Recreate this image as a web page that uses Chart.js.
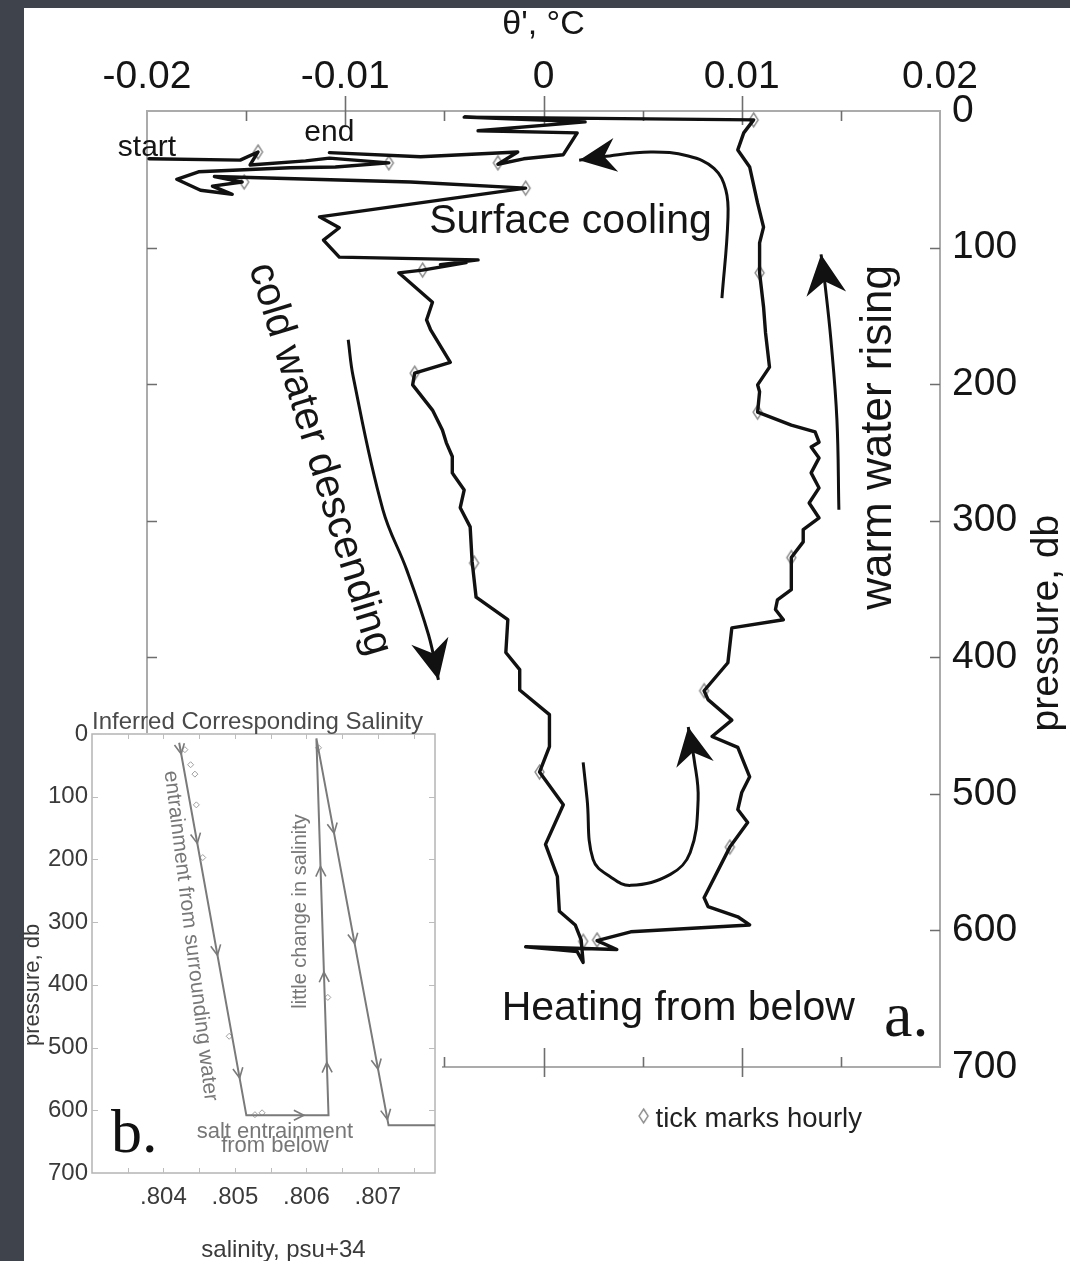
<!DOCTYPE html>
<html>
<head>
<meta charset="utf-8">
<title>Potential temperature anomaly and inferred salinity</title>
<script src="https://cdn.jsdelivr.net/npm/chart.js@4.4.0/dist/chart.umd.min.js"></script>
<style>
  html, body { margin: 0; padding: 0; }
  body { width: 1070px; height: 1261px; background: #3f434b; position: relative; overflow: hidden; }
  #sheet { position: absolute; left: 24px; top: 8px; right: 0; bottom: 0; background: #ffffff; }
  #main { position: absolute; left: 0; top: 0; }
  #inset { position: absolute; left: 0; top: 700px; }
</style>
</head>
<body>
<div id="sheet"></div>
<canvas id="main" width="1070" height="1261"></canvas>
<canvas id="inset" width="450" height="561"></canvas>
<script>
// ---- panel a: float trajectory, theta' (°C) against pressure (db) ----
const thetaTrace = [
  -0.0199, -0.0153, -0.0144, -0.0148, -0.0120, -0.0108, -0.0078, -0.0105, -0.0128, -0.0174,
  -0.0185, -0.0173, -0.0157, -0.0167, -0.0152, -0.0166, -0.0067, -0.0009, -0.0113, -0.0103,
  -0.0111, -0.0103, -0.0033, -0.0052, -0.0039, -0.0061, -0.0073, -0.0056, -0.0059, -0.0057,
  -0.0047, -0.0065, -0.0066, -0.0056, -0.0051, -0.0049, -0.0046, -0.0046, -0.0040, -0.0042,
  -0.0037, -0.0036, -0.0034, -0.0018, -0.0019, -0.0012, -0.0012, 0.0003, 0.0003, -0.0002,
  0.0010, 0.0001, 0.0007, 0.0008, 0.0016, 0.0019, 0.0020, 0.0017, -0.0009, 0.0037,
  0.0027, 0.0044, 0.0104, 0.0098, 0.0083, 0.0081, 0.0094, 0.0103, 0.0098, 0.0100,
  0.0104, 0.0098, 0.0085, 0.0095, 0.0083, 0.0081, 0.0093, 0.0095, 0.0121, 0.0117,
  0.0118, 0.0125, 0.0125, 0.0131, 0.0131, 0.0139, 0.0134, 0.0139, 0.0135, 0.0139,
  0.0135, 0.0139, 0.0137, 0.0125, 0.0108, 0.0109, 0.0108, 0.0114, 0.0112, 0.0111,
  0.0109, 0.0109, 0.0111, 0.0108, 0.0104, 0.0098, 0.0101, 0.0106, -0.0040, 0.0021,
  -0.0033, 0.0017, 0.0010, -0.0010, -0.0023, -0.0013, -0.0062, -0.0108
];
const pressureTrace = [
  35, 36, 30, 39.5, 36.5, 34.5, 38, 41, 41.5, 44.5,
  50, 58, 61, 55, 52, 48, 52, 56.5, 77.5, 85.5,
  94.5, 107, 109, 112.5, 111, 116.5, 118.5, 140, 153, 160,
  184, 192, 200.5, 219, 233.5, 243, 253, 265, 277.5, 290.5,
  304.5, 330, 356, 372.5, 396.5, 409, 424, 442, 465.5, 484,
  508, 537, 560.5, 586, 596, 607, 623.5, 615.5, 612, 614,
  607.5, 601, 596, 590, 582.5, 576, 539, 521, 511.5, 499,
  487.5, 466, 458, 446, 431, 424.5, 404, 378.5, 372.5, 365,
  358, 350.5, 327, 315.5, 306.5, 298, 287, 276, 265, 254,
  246, 242.5, 235, 230, 220.5, 205.5, 200.5, 187.5, 162.5, 143.5,
  118.5, 96.5, 85, 67.5, 41, 28.5, 16, 6.5, 4.5, 8,
  14.5, 16, 32, 35, 39, 30, 33.5, 30.5
];
// hourly marks along the trajectory
const hourTheta = [-0.0144, -0.0078, -0.0151, -0.0009, -0.0023, -0.0061, -0.0065, -0.0035, -0.0002,
                   0.0020, 0.0027, 0.0081, 0.0094, 0.0125, 0.0108, 0.0109, 0.0106];
const hourPressure = [30, 38, 52, 56.5, 38, 116.5, 192, 331, 484,
                      608, 607, 424.5, 539, 327, 220.5, 118.5, 6.5];

// circulation arrows (theta', pressure), last point is the arrow tip
const coolingArrowTheta = [0.0090, 0.0093, 0.0092, 0.0086, 0.0073, 0.0054, 0.0030, 0.0018];
const coolingArrowPres  = [137, 80, 58, 42, 33, 30, 33.5, 36];
const risingArrowTheta  = [0.0149, 0.0148, 0.0145, 0.0142, 0.0140];
const risingArrowPres   = [292, 226, 168, 127, 105];
const sinkingArrowTheta = [-0.00985, -0.0096, -0.0081, -0.0069, -0.0058, -0.0053];
const sinkingArrowPres  = [167.5, 194.5, 292, 336, 383.5, 416.5];
const turnArrowTheta    = [0.0020, 0.0022, 0.0025, 0.0034, 0.0044, 0.0064, 0.0074, 0.0078, 0.0076, 0.0073];
const turnArrowPres     = [477, 504, 548, 561, 567, 559, 543, 504, 475, 451];

const thetaTicks = [-0.02, -0.01, 0, 0.01, 0.02];
const thetaTickLabels = ['-0.02', '-0.01', '0', '0.01', '0.02'];
const thetaMinorTicks = [-0.015, -0.005, 0.005, 0.015];
const pressureTicks = [0, 100, 200, 300, 400, 500, 600, 700];
const pressureTickLabels = ['0', '100', '200', '300', '400', '500', '600', '700'];

// ---- panel b: inferred salinity (psu + 34) against pressure (db) ----
const salinityPath = [0.80422, 0.80516, 0.80631, 0.80614, 0.80715, 0.80782];
const salinityPathPres = [14, 608, 608, 7, 624, 624];
const salinityHourly = [0.80430, 0.80438, 0.80444, 0.80446, 0.80455, 0.80492, 0.80528, 0.80538, 0.80617, 0.80630];
const salinityHourlyPres = [25, 49, 64, 113, 197, 482, 607, 604, 22, 420];
const salinityTicks = [0.804, 0.805, 0.806, 0.807];
const salinityTickLabels = ['.804', '.805', '.806', '.807'];
const salinityMinorTicks = [0.8035, 0.8040, 0.8045, 0.8050, 0.8055, 0.8060, 0.8065, 0.8070, 0.8075];
// direction chevrons: which leg of the salinity path, and how far along it
const chevronLeg = [0, 0, 0, 0, 1, 2, 2, 2, 3, 3, 3, 3];
const chevronAlong = [0.03, 0.27, 0.57, 0.9, 0.7, 0.14, 0.38, 0.66, 0.245, 0.53, 0.855, 0.985];

const SANS = "'Liberation Sans', Arial, Helvetica, sans-serif";
const SERIF = "'Liberation Serif', 'Times New Roman', serif";
Chart.defaults.font.family = SANS;

const zip = (xs, ys) => xs.map((v, i) => ({ x: v, y: ys[i] }));

// tall hollow diamond used for the hourly marks
function diamondGlyph(w, h, stroke, lw) {
  const c = document.createElement('canvas');
  c.width = w + 4; c.height = h + 4;
  const g = c.getContext('2d');
  g.translate(c.width / 2, c.height / 2);
  g.beginPath();
  g.moveTo(0, -h / 2); g.lineTo(w / 2, 0); g.lineTo(0, h / 2); g.lineTo(-w / 2, 0); g.closePath();
  g.fillStyle = '#ffffff'; g.fill();
  g.strokeStyle = stroke; g.lineWidth = lw; g.stroke();
  return c;
}
const hourGlyph = diamondGlyph(9, 14, '#8a8a8a', 1.4);

function arrowHead(ctx, tip, from, len, half) {
  const ang = Math.atan2(tip.y - from.y, tip.x - from.x);
  ctx.save();
  ctx.translate(tip.x, tip.y);
  ctx.rotate(ang);
  ctx.beginPath();
  ctx.moveTo(0, 0);
  ctx.lineTo(-len, -half);
  ctx.lineTo(-len * 0.68, 0);
  ctx.lineTo(-len, half);
  ctx.closePath();
  ctx.fill();
  ctx.restore();
}

function drawText(ctx, text, x, y, font, color, rot, align) {
  ctx.save();
  ctx.translate(x, y);
  if (rot) ctx.rotate(rot);
  ctx.font = font;
  ctx.fillStyle = color;
  ctx.textAlign = align || 'center';
  ctx.textBaseline = 'middle';
  ctx.fillText(text, 0, 0);
  ctx.restore();
}

// frame with inward ticks for panel a
const frameA = {
  id: 'frameA',
  beforeDatasetsDraw(chart) {
    const { ctx, chartArea: a, scales: { x, y } } = chart;
    ctx.save();
    ctx.strokeStyle = '#ababab';
    ctx.lineWidth = 2;
    ctx.strokeRect(a.left, a.top, a.right - a.left, a.bottom - a.top);
    ctx.strokeStyle = '#6e6e6e';
    ctx.lineWidth = 1.6;
    ctx.beginPath();
    thetaTicks.slice(1, -1).forEach(v => {
      const px = Math.round(x.getPixelForValue(v)) + 0.5;
      ctx.moveTo(px, a.top - 15); ctx.lineTo(px, a.top + 14);
      ctx.moveTo(px, a.bottom - 19); ctx.lineTo(px, a.bottom + 10);
    });
    thetaMinorTicks.forEach(v => {
      const px = Math.round(x.getPixelForValue(v)) + 0.5;
      ctx.moveTo(px, a.top); ctx.lineTo(px, a.top + 10);
      ctx.moveTo(px, a.bottom - 10); ctx.lineTo(px, a.bottom);
    });
    pressureTicks.slice(1, -1).forEach(v => {
      const py = Math.round(y.getPixelForValue(v)) + 0.5;
      ctx.moveTo(a.left, py); ctx.lineTo(a.left + 10, py);
      ctx.moveTo(a.right - 10, py); ctx.lineTo(a.right, py);
    });
    ctx.stroke();
    ctx.restore();
  }
};

// arrowheads, axis titles and labels for panel a
const notesA = {
  id: 'notesA',
  afterDatasetsDraw(chart) {
    const { ctx, chartArea: a, scales: { x, y } } = chart;
    const P = (t, p) => ({ x: x.getPixelForValue(t), y: y.getPixelForValue(p) });
    ctx.save();
    ctx.fillStyle = '#111111';
    [[coolingArrowTheta, coolingArrowPres, 37, 17],
     [risingArrowTheta, risingArrowPres, 40, 20],
     [sinkingArrowTheta, sinkingArrowPres, 40, 19],
     [turnArrowTheta, turnArrowPres, 38, 19]].forEach(([ts, ps, len, half]) => {
      const n = ts.length;
      arrowHead(ctx, P(ts[n - 1], ps[n - 1]), P(ts[n - 2], ps[n - 2]), len, half);
    });
    ctx.restore();

    const ink = '#151515';
    drawText(ctx, "\u03B8', \u00B0C", x.getPixelForValue(0), 25, '34px ' + SANS, ink);
    drawText(ctx, 'pressure, db', a.right + 107, y.getPixelForValue(375), '39px ' + SANS, ink, -Math.PI / 2);

    let q = P(0.00136, 81);
    drawText(ctx, 'Surface cooling', q.x, q.y, '41px ' + SANS, ink);
    q = P(0.0068, 657);
    drawText(ctx, 'Heating from below', q.x, q.y, '41px ' + SANS, ink);
    q = P(-0.0200, 27);
    drawText(ctx, 'start', q.x, q.y, '30px ' + SANS, ink);
    q = P(-0.0108, 16);
    drawText(ctx, 'end', q.x, q.y, '30px ' + SANS, ink);
    q = P(-0.0113, 255);
    drawText(ctx, 'cold water descending', q.x, q.y, '41px ' + SANS, ink, 73 * Math.PI / 180);
    q = P(0.0169, 239);
    drawText(ctx, 'warm water rising', q.x, q.y, '44px ' + SANS, ink, -Math.PI / 2);
    q = P(0.0183, 665);
    drawText(ctx, 'a.', q.x, q.y, '64px ' + SERIF, ink);

    // key for the hourly marks
    const kx = x.getPixelForValue(0.00505), ky = a.bottom + 50;
    ctx.drawImage(hourGlyph, kx - hourGlyph.width / 2, ky - hourGlyph.height / 2 - 1);
    drawText(ctx, 'tick marks hourly', kx + 12, ky + 2, '27.5px ' + SANS, '#222', 0, 'left');
  }
};

new Chart(document.getElementById('main'), {
  type: 'scatter',
  data: {
    datasets: [
      { data: zip(thetaTrace, pressureTrace), showLine: true, borderColor: '#111111', borderWidth: 3.4,
        pointRadius: 0, tension: 0, borderJoinStyle: 'round', borderCapStyle: 'round' },
      { data: zip(coolingArrowTheta, coolingArrowPres), showLine: true, borderColor: '#111111', borderWidth: 3,
        pointRadius: 0, tension: 0.4 },
      { data: zip(risingArrowTheta, risingArrowPres), showLine: true, borderColor: '#111111', borderWidth: 3,
        pointRadius: 0, tension: 0.4 },
      { data: zip(sinkingArrowTheta, sinkingArrowPres), showLine: true, borderColor: '#111111', borderWidth: 3,
        pointRadius: 0, tension: 0.4 },
      { data: zip(turnArrowTheta, turnArrowPres), showLine: true, borderColor: '#111111', borderWidth: 3,
        pointRadius: 0, tension: 0.4 },
      { data: zip(hourTheta, hourPressure), showLine: false, pointStyle: hourGlyph, pointRadius: 7 }
    ]
  },
  options: {
    responsive: false,
    animation: false,
    events: [],
    layout: { padding: { left: 147, right: 0, top: 0, bottom: 194 } },
    plugins: { legend: { display: false }, tooltip: { enabled: false } },
    scales: {
      x: {
        type: 'linear', position: 'top', min: -0.02, max: 0.02,
        grid: { display: false, drawTicks: false }, border: { display: false },
        afterBuildTicks: s => { s.ticks = thetaTicks.map(v => ({ value: v })); },
        afterFit: s => { s.height = 111; },
        ticks: {
          callback: (v, i) => thetaTickLabels[i],
          font: { size: 39 }, color: '#151515', padding: 10, maxRotation: 0, autoSkip: false
        }
      },
      y: {
        type: 'linear', position: 'right', min: 0, max: 700, reverse: true,
        grid: { display: false, drawTicks: false }, border: { display: false },
        afterBuildTicks: s => { s.ticks = pressureTicks.map(v => ({ value: v })); },
        afterFit: s => { s.width = 130; },
        ticks: {
          callback: (v, i) => pressureTickLabels[i],
          font: { size: 39 }, color: '#151515', padding: 12, autoSkip: false
        }
      }
    }
  },
  plugins: [frameA, notesA]
});

// ---- panel b ----
const panelB = {
  id: 'panelB',
  beforeDraw(chart) {
    const { ctx, chartArea: a } = chart;
    ctx.save();
    ctx.fillStyle = '#ffffff';
    ctx.fillRect(24, a.top - 1, a.right + 7 - 24, chart.height - a.top + 1);
    ctx.restore();
  },
  beforeDatasetsDraw(chart) {
    const { ctx, chartArea: a, scales: { x, y } } = chart;
    ctx.save();
    ctx.strokeStyle = '#b4b4b4';
    ctx.lineWidth = 1.5;
    ctx.strokeRect(a.left, a.top, a.right - a.left, a.bottom - a.top);
    ctx.strokeStyle = '#bdbdbd';
    ctx.lineWidth = 1;
    ctx.beginPath();
    salinityMinorTicks.forEach(v => {
      const px = Math.round(x.getPixelForValue(v)) + 0.5;
      ctx.moveTo(px, a.top); ctx.lineTo(px, a.top + 5);
      ctx.moveTo(px, a.bottom); ctx.lineTo(px, a.bottom - 5);
    });
    pressureTicks.slice(1, -1).forEach(v => {
      const py = Math.round(y.getPixelForValue(v)) + 0.5;
      ctx.moveTo(a.left, py); ctx.lineTo(a.left + 6, py);
      ctx.moveTo(a.right, py); ctx.lineTo(a.right - 6, py);
    });
    ctx.stroke();
    ctx.restore();
  },
  afterDatasetsDraw(chart) {
    const { ctx, chartArea: a, scales: { x, y } } = chart;
    const P = (s, p) => ({ x: x.getPixelForValue(s), y: y.getPixelForValue(p) });
    const pts = salinityPath.map((s, i) => P(s, salinityPathPres[i]));
    ctx.save();
    ctx.strokeStyle = '#7a7a7a';
    ctx.lineWidth = 1.6;
    chevronLeg.forEach((leg, k) => {
      const p0 = pts[leg], p1 = pts[leg + 1], f = chevronAlong[k];
      const cx = p0.x + (p1.x - p0.x) * f, cy = p0.y + (p1.y - p0.y) * f;
      const ang = Math.atan2(p1.y - p0.y, p1.x - p0.x);
      ctx.save();
      ctx.translate(cx, cy);
      ctx.rotate(ang);
      ctx.beginPath();
      ctx.moveTo(-10, -5); ctx.lineTo(0, 0); ctx.lineTo(-10, 5);
      ctx.stroke();
      ctx.restore();
    });
    ctx.restore();

    const grey = '#777777', dark = '#3a3a3a';
    drawText(ctx, 'Inferred Corresponding Salinity', (a.left + a.right) / 2 - 6, a.top - 12, '24px ' + SANS, '#4a4a4a');
    drawText(ctx, 'pressure, db', 33, y.getPixelForValue(400), '22px ' + SANS, dark, -Math.PI / 2);
    drawText(ctx, 'salinity, psu+34', x.getPixelForValue(0.80568), a.bottom + 77, '24px ' + SANS, dark);
    let q = P(0.80438, 322);
    drawText(ctx, 'entrainment from surrounding water', q.x, q.y, '21px ' + SANS, grey, 83 * Math.PI / 180);
    q = P(0.80592, 283);
    drawText(ctx, 'little change in salinity', q.x, q.y, '20px ' + SANS, grey, -Math.PI / 2);
    q = P(0.80556, 635);
    drawText(ctx, 'salt entrainment', q.x, q.y, '22px ' + SANS, grey);
    q = P(0.80556, 657);
    drawText(ctx, 'from below', q.x, q.y, '22px ' + SANS, grey);
    q = P(0.80359, 640);
    drawText(ctx, 'b.', q.x, q.y, '62px ' + SERIF, '#111111');
  }
};

new Chart(document.getElementById('inset'), {
  type: 'scatter',
  data: {
    datasets: [
      { data: zip(salinityPath, salinityPathPres), showLine: true, borderColor: '#7a7a7a', borderWidth: 2,
        pointRadius: 0, tension: 0 },
      { data: zip(salinityHourly, salinityHourlyPres), showLine: false, pointStyle: 'rectRot', pointRadius: 3,
        borderColor: '#a0a0a0', borderWidth: 1, backgroundColor: '#ffffff' }
    ]
  },
  options: {
    responsive: false,
    animation: false,
    events: [],
    layout: { padding: { left: 0, right: 15, top: 34, bottom: 0 } },
    plugins: { legend: { display: false }, tooltip: { enabled: false } },
    scales: {
      x: {
        type: 'linear', position: 'bottom', min: 0.803, max: 0.8078,
        grid: { display: false, drawTicks: false }, border: { display: false },
        afterBuildTicks: s => { s.ticks = salinityTicks.map(v => ({ value: v })); },
        afterFit: s => { s.height = 88; },
        ticks: {
          callback: (v, i) => salinityTickLabels[i],
          font: { size: 24 }, color: '#3a3a3a', padding: 10, maxRotation: 0, autoSkip: false
        }
      },
      y: {
        type: 'linear', position: 'left', min: 0, max: 700, reverse: true,
        grid: { display: false, drawTicks: false }, border: { display: false },
        afterBuildTicks: s => { s.ticks = pressureTicks.map(v => ({ value: v })); },
        afterFit: s => { s.width = 92; },
        ticks: {
          callback: (v, i) => pressureTickLabels[i],
          font: { size: 24 }, color: '#3a3a3a', padding: 4, autoSkip: false
        }
      }
    }
  },
  plugins: [panelB]
});
</script>
</body>
</html>
